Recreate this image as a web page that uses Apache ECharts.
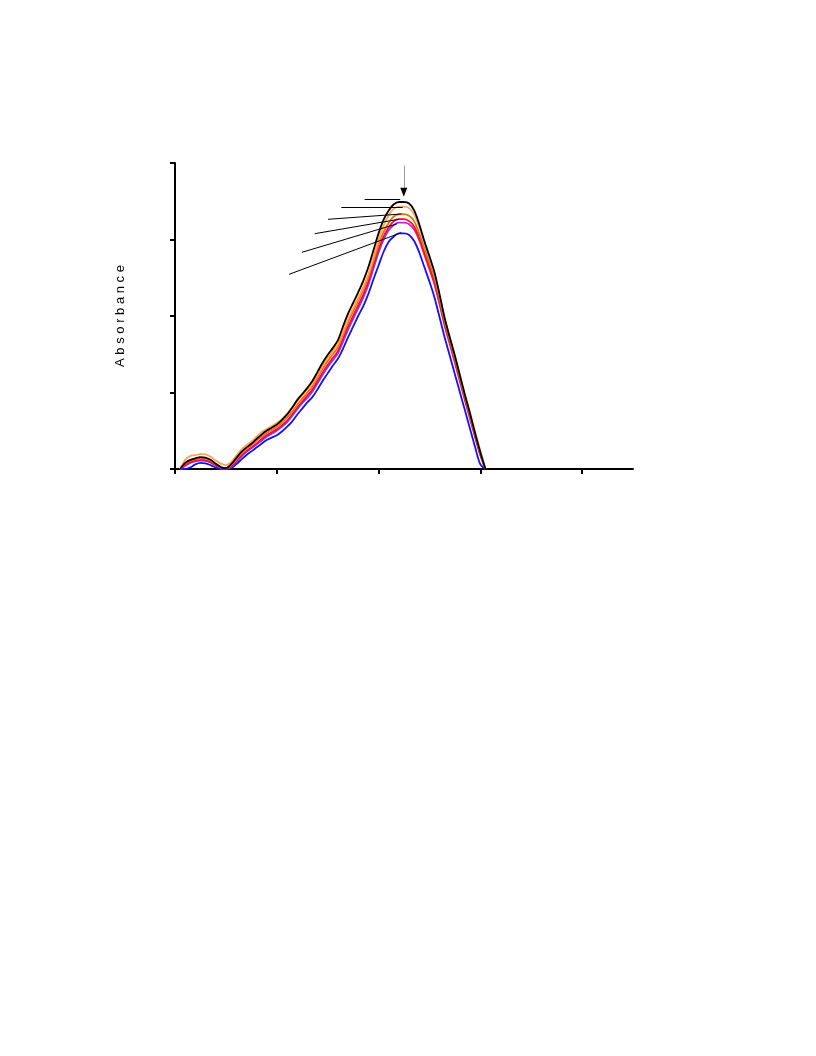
<!DOCTYPE html>
<html>
<head>
<meta charset="utf-8">
<script src="https://cdn.jsdelivr.net/npm/echarts@6/dist/echarts.min.js"></script>
<style>
html,body{margin:0;padding:0;background:#fff;}
#chart{width:816px;height:1056px;}
</style>
</head>
<body>
<div id="chart"></div>
<script>
// Wavelength grid (nm)
var wavelengths = [205,210,215,220,225,230,235,240,245,250,
  255,260,265,270,275,280,285,290,295,300,
  305,310,315,320,325,330,335,340,345,350,
  355,360,365,370,375,380,385,390,395,400,
  405,410,415,420,425,430,435,440,445,450,
  455,460,465,470,475,480,485,490,495,500,505];

var xTicks = [200,300,400,500,600];
var yTicks = [0,1,2,3,4];
var yTitle = "A b s o r b a n c e";

var blackSeries = [0,0.08,0.12,0.14,0.155,0.15,0.12,0.07,0.025,0.01,
  0.06,0.14,0.22,0.28,0.33,0.39,0.45,0.50,0.54,0.58,
  0.64,0.71,0.80,0.90,0.98,1.06,1.15,1.27,1.39,1.49,
  1.58,1.68,1.86,2.03,2.17,2.31,2.46,2.64,2.86,3.08,
  3.26,3.38,3.46,3.49,3.49,3.47,3.38,3.20,2.98,2.78,
  2.57,2.28,1.97,1.72,1.48,1.22,0.96,0.72,0.46,0.22,0];

var lightOrangeSeries = [0,0.12,0.17,0.18,0.195,0.19,0.16,0.11,0.07,0.05,
  0.09,0.17,0.25,0.31,0.36,0.42,0.48,0.52,0.56,0.60,
  0.65,0.72,0.80,0.89,0.97,1.04,1.12,1.23,1.35,1.45,
  1.54,1.63,1.79,1.96,2.10,2.24,2.38,2.55,2.77,2.99,
  3.18,3.32,3.40,3.43,3.43,3.41,3.33,3.16,2.95,2.76,
  2.55,2.27,1.97,1.72,1.48,1.23,0.97,0.73,0.48,0.24,0];

var darkOrangeSeries = [0,0.07,0.11,0.13,0.14,0.135,0.11,0.065,0.02,0.01,
  0.05,0.12,0.20,0.26,0.31,0.37,0.42,0.47,0.51,0.55,
  0.60,0.67,0.75,0.84,0.92,1.00,1.08,1.19,1.31,1.41,
  1.50,1.59,1.75,1.92,2.06,2.20,2.34,2.51,2.72,2.93,
  3.10,3.22,3.30,3.33,3.33,3.31,3.24,3.08,2.89,2.70,
  2.50,2.23,1.93,1.69,1.45,1.19,0.94,0.70,0.45,0.21,0];

var redSeries = [0,0.05,0.09,0.11,0.12,0.115,0.09,0.05,0.015,0.005,
  0.03,0.10,0.17,0.23,0.28,0.33,0.39,0.44,0.48,0.52,
  0.57,0.63,0.71,0.80,0.88,0.96,1.04,1.15,1.26,1.36,
  1.45,1.54,1.70,1.86,2.00,2.14,2.28,2.45,2.66,2.87,
  3.04,3.16,3.24,3.267,3.265,3.24,3.17,3.02,2.83,2.64,
  2.44,2.18,1.89,1.65,1.41,1.16,0.91,0.67,0.42,0.19,0];

var magentaSeries = [0,0.04,0.08,0.10,0.11,0.105,0.085,0.045,0.012,0.004,
  0.025,0.09,0.16,0.22,0.27,0.32,0.37,0.42,0.46,0.50,
  0.55,0.61,0.69,0.78,0.86,0.93,1.01,1.12,1.23,1.33,
  1.42,1.51,1.66,1.82,1.96,2.10,2.24,2.41,2.62,2.83,
  3.00,3.12,3.19,3.22,3.22,3.20,3.13,2.99,2.80,2.61,
  2.41,2.15,1.87,1.63,1.39,1.14,0.89,0.65,0.41,0.18,0];

var blueSeries = [0,0,0.02,0.06,0.08,0.075,0.05,0.02,0,0,
  0.01,0.06,0.12,0.18,0.23,0.28,0.33,0.38,0.41,0.44,
  0.49,0.55,0.62,0.71,0.79,0.87,0.94,1.04,1.15,1.25,
  1.35,1.44,1.57,1.72,1.86,2.00,2.13,2.29,2.48,2.66,
  2.84,2.97,3.04,3.08,3.08,3.06,2.98,2.83,2.64,2.45,
  2.24,1.98,1.72,1.48,1.24,1.00,0.76,0.52,0.28,0.06,0];

// Leader lines (label start -> curve), in data units [x, y]
var leaderStarts = [[386.3,3.525],[363.4,3.421],[350.3,3.264],[337.3,3.076],[324.8,2.833],[312.1,2.545]];
var leaderEnds   = [[421.3,3.525],[423.8,3.421],[422.3,3.333],[419.9,3.264],[417.9,3.203],[422.3,3.089]];
var arrowLine = [[424.8,3.965],[424.8,3.62]];
var arrowTip = [424.8,3.56];

function pairs(ys){ return wavelengths.map(function(w,i){ return [w, ys[i]]; }); }

var lineDefs = [
  {name:'blue', data: blueSeries, color:'#1010ff'},
  {name:'magenta', data: magentaSeries, color:'#c81cf0'},
  {name:'red', data: redSeries, color:'#ff1010'},
  {name:'darkorange', data: darkOrangeSeries, color:'#d9780f'},
  {name:'lightorange', data: lightOrangeSeries, color:'#f7a55a'},
  {name:'black', data: blackSeries, color:'#000000'}
];

var series = lineDefs.map(function(d){
  return {
    type:'line', name:d.name, data: pairs(d.data), showSymbol:false, symbol:'none',
    smooth:0.3, lineStyle:{color:d.color, width:1.8}, itemStyle:{color:d.color},
    emphasis:{disabled:true}, silent:true, z:2
  };
});

series.push({
  type:'line', name:'annotations', data:[], silent:true, z:5,
  markLine:{
    silent:true, symbol:['none','none'], animation:false,
    label:{show:false},
    lineStyle:{color:'#000', width:1, type:'solid'},
    emphasis:{disabled:true},
    data: leaderStarts.map(function(s,i){
      return [{coord:s},{coord:leaderEnds[i]}];
    }).concat([[{coord:arrowLine[0], lineStyle:{color:'#9a9a9a', width:1}},{coord:arrowLine[1]}]])
  },
  markPoint:{
    silent:true, animation:false,
    data:[{coord:arrowTip, symbol:'triangle', symbolSize:[7,9], symbolRotate:180, symbolOffset:[0,-4.5],
           itemStyle:{color:'#000'}, label:{show:false}}]
  }
});

var chart = echarts.init(document.getElementById('chart'), null, {renderer:'canvas'});
chart.setOption({
  animation:false,
  backgroundColor:'#ffffff',
  grid:{left:175, right:183, top:163, bottom:587, containLabel:false},
  xAxis:{
    type:'value', min:200, max:650, interval:100,
    axisLine:{show:true, onZero:false, lineStyle:{color:'#000', width:2}},
    axisTick:{show:true, length:5, inside:false, customValues:xTicks, lineStyle:{color:'#000', width:2}},
    axisLabel:{show:false},
    splitLine:{show:false}
  },
  yAxis:{
    type:'value', min:0, max:4, interval:1,
    name: yTitle, nameLocation:'middle', nameGap:48, nameRotate:90,
    nameTextStyle:{fontFamily:'Liberation Sans, Arial, sans-serif', fontSize:13, color:'#000'},
    axisLine:{show:true, lineStyle:{color:'#000', width:2}},
    axisTick:{show:true, length:5, inside:false, customValues:yTicks, lineStyle:{color:'#000', width:2}},
    axisLabel:{show:false},
    splitLine:{show:false}
  },
  series: series
});
</script>
</body>
</html>
